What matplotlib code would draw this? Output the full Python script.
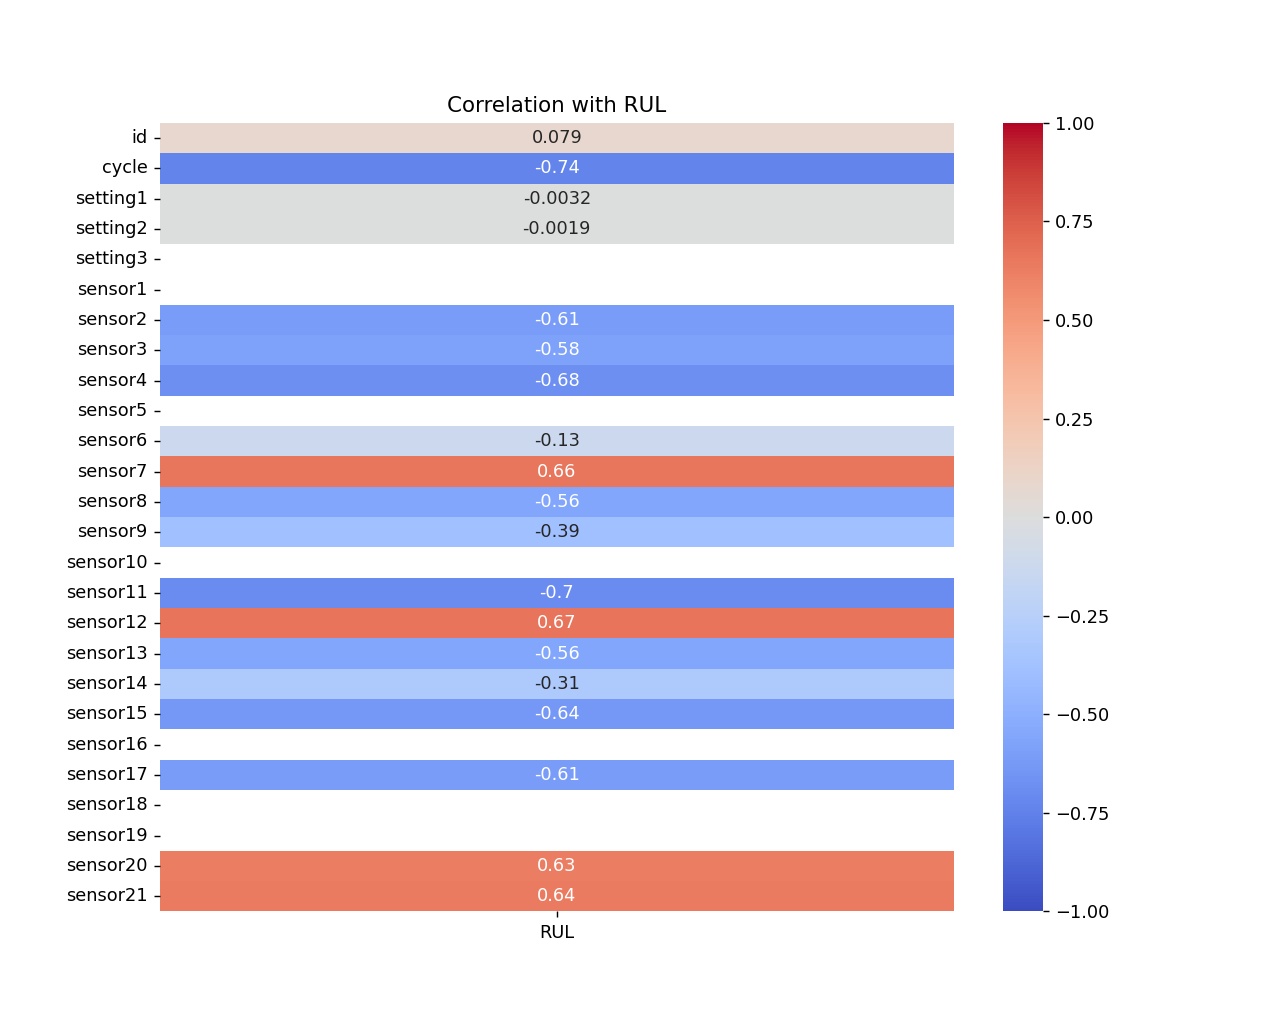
import numpy as np
import pandas as pd
import matplotlib
matplotlib.use("Agg")
import matplotlib.pyplot as plt
import seaborn as sns

# row labels and correlation values
features = ["id", "cycle", "setting1", "setting2", "setting3", "sensor1",
            "sensor2", "sensor3", "sensor4", "sensor5", "sensor6", "sensor7",
            "sensor8", "sensor9", "sensor10", "sensor11", "sensor12", "sensor13",
            "sensor14", "sensor15", "sensor16", "sensor17", "sensor18",
            "sensor19", "sensor20", "sensor21"]
rul_corr = [0.079, -0.74, -0.0032, -0.0019, np.nan, np.nan,
            -0.61, -0.58, -0.68, np.nan, -0.13, 0.66,
            -0.56, -0.39, np.nan, -0.70, 0.67, -0.56,
            -0.31, -0.64, np.nan, -0.61, np.nan,
            np.nan, 0.63, 0.64]

corr = pd.DataFrame({"RUL": rul_corr}, index=features)

plt.figure(figsize=(10, 8), dpi=128)
sns.heatmap(corr, annot=True, cmap="coolwarm", vmin=-1, vmax=1)
plt.title("Correlation with RUL")
plt.savefig("out.png", dpi=128)
